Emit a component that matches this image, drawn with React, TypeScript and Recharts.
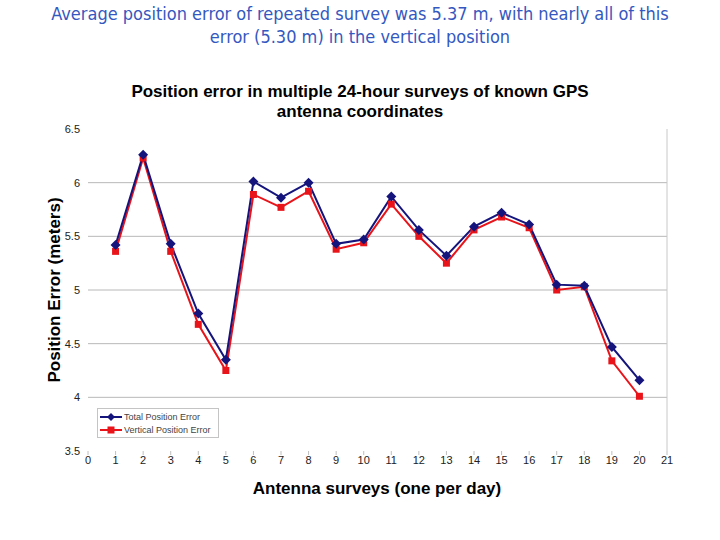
import React from 'react';
import { LineChart, Line, XAxis, YAxis, ReferenceLine } from 'recharts';

const surveys = [1, 2, 3, 4, 5, 6, 7, 8, 9, 10, 11, 12, 13, 14, 15, 16, 17, 18, 19, 20];
const totalError = [5.42, 6.26, 5.43, 4.78, 4.35, 6.01, 5.86, 6.0, 5.43, 5.47, 5.87, 5.56, 5.32, 5.59, 5.72, 5.61, 5.05, 5.04, 4.47, 4.16];
const verticalError = [5.36, 6.23, 5.36, 4.68, 4.25, 5.89, 5.77, 5.92, 5.38, 5.44, 5.8, 5.5, 5.25, 5.56, 5.68, 5.58, 5.0, 5.03, 4.34, 4.01];
const yTicks = [3.5, 4, 4.5, 5, 5.5, 6, 6.5];
const xTicks = [0, 1, 2, 3, 4, 5, 6, 7, 8, 9, 10, 11, 12, 13, 14, 15, 16, 17, 18, 19, 20, 21];
const gridValues = [4, 4.5, 5, 5.5, 6];

const data = surveys.map((s, i) => ({ survey: s, total: totalError[i], vertical: verticalError[i] }));

const BLUE = '#14147c';
const RED = '#e8141a';

const Diamond = (props: any) => {
  const { cx, cy, index } = props;
  if (cx == null || cy == null) return null;
  return (
    <polygon
      key={`d-${index}`}
      points={`${cx},${cy - 5} ${cx + 5},${cy} ${cx},${cy + 5} ${cx - 5},${cy}`}
      fill={BLUE}
    />
  );
};

const Square = (props: any) => {
  const { cx, cy, index } = props;
  if (cx == null || cy == null) return null;
  return <rect key={`s-${index}`} x={cx - 3.5} y={cy - 3.5} width={7} height={7} fill={RED} />;
};

const font = '"Liberation Sans", Arial, sans-serif';

export default function App() {
  return (
    <div style={{ position: 'absolute', left: 0, top: 0, width: 720, height: 540, background: '#fff', fontFamily: font }}>
      <div
        style={{
          position: 'absolute',
          left: 0,
          top: 2,
          width: 720,
          textAlign: 'center',
          color: '#3458c0',
          fontFamily: '"DejaVu Sans Condensed", "DejaVu Sans", sans-serif',
          fontSize: 18,
          lineHeight: '23px',
        }}
      >
        Average position error of repeated survey was 5.37 m, with nearly all of this
        <br />
        error (5.30 m) in the vertical position
      </div>
      <div
        style={{
          position: 'absolute',
          left: 0,
          top: 82,
          width: 720,
          textAlign: 'center',
          color: '#000',
          fontFamily: font,
          fontWeight: 'bold',
          fontSize: 17,
          lineHeight: '20px',
        }}
      >
        Position error in multiple 24-hour surveys of known GPS
        <br />
        antenna coordinates
      </div>
      <LineChart
        width={720}
        height={540}
        data={data}
        margin={{ top: 129, right: 53, bottom: 59, left: 48 }}
        style={{ position: 'absolute', left: 0, top: 0 }}
      >
        {gridValues.map((g) => (
          <ReferenceLine key={`g-${g}`} y={g} stroke="#b8b8b8" strokeWidth={1} />
        ))}
        <ReferenceLine x={21} stroke="#c8c8c8" strokeWidth={1} />
        <XAxis
          dataKey="survey"
          type="number"
          domain={[0, 21]}
          ticks={xTicks}
          interval={0}
          axisLine={false}
          tickLine={{ stroke: '#c0c0c0' }}
          tickSize={4}
          tickMargin={1}
          height={30}
          tick={{ fontSize: 11, fill: '#222', fontFamily: font }}
        />
        <YAxis
          type="number"
          domain={[3.5, 6.5]}
          ticks={yTicks}
          interval={0}
          axisLine={false}
          tickLine={false}
          width={40}
          tick={{ fontSize: 11, fill: '#222', fontFamily: font }}
        />
        <Line
          type="linear"
          dataKey="vertical"
          stroke={RED}
          strokeWidth={2}
          dot={<Square />}
          activeDot={false}
          isAnimationActive={false}
        />
        <Line
          type="linear"
          dataKey="total"
          stroke={BLUE}
          strokeWidth={2}
          dot={<Diamond />}
          activeDot={false}
          isAnimationActive={false}
        />
      </LineChart>
      <div
        style={{
          position: 'absolute',
          left: 38,
          top: 290,
          width: 34,
          height: 0,
        }}
      >
        <div
          style={{
            position: 'absolute',
            left: 0,
            top: 0,
            transform: 'translate(-50%, -50%) rotate(-90deg)',
            whiteSpace: 'nowrap',
            fontWeight: 'bold',
            fontSize: 17,
            fontFamily: font,
            color: '#000',
            marginLeft: 17,
          }}
        >
          Position Error (meters)
        </div>
      </div>
      <div
        style={{
          position: 'absolute',
          left: 77,
          top: 479,
          width: 600,
          textAlign: 'center',
          fontWeight: 'bold',
          fontSize: 17,
          fontFamily: font,
          color: '#000',
        }}
      >
        Antenna surveys (one per day)
      </div>
      <div
        style={{
          position: 'absolute',
          left: 97,
          top: 408,
          width: 120,
          height: 28,
          border: '1px solid #c4c4c4',
          background: '#fff',
          fontFamily: font,
          fontSize: 9,
          color: '#444',
        }}
      >
        {[
          { label: 'Total Position Error', color: BLUE, shape: 'diamond' },
          { label: 'Vertical Position Error', color: RED, shape: 'square' },
        ].map((item, i) => (
          <div key={item.label} style={{ position: 'absolute', left: 2, top: 2 + i * 13, height: 12, display: 'flex', alignItems: 'center' }}>
            <svg width={22} height={12} style={{ display: 'block' }}>
              <line x1={0} y1={6} x2={22} y2={6} stroke={item.color} strokeWidth={2} />
              {item.shape === 'diamond' ? (
                <polygon points="11,2 15,6 11,10 7,6" fill={item.color} />
              ) : (
                <rect x={7.5} y={2.5} width={7} height={7} fill={item.color} />
              )}
            </svg>
            <span style={{ marginLeft: 2, whiteSpace: 'nowrap' }}>{item.label}</span>
          </div>
        ))}
      </div>
    </div>
  );
}
